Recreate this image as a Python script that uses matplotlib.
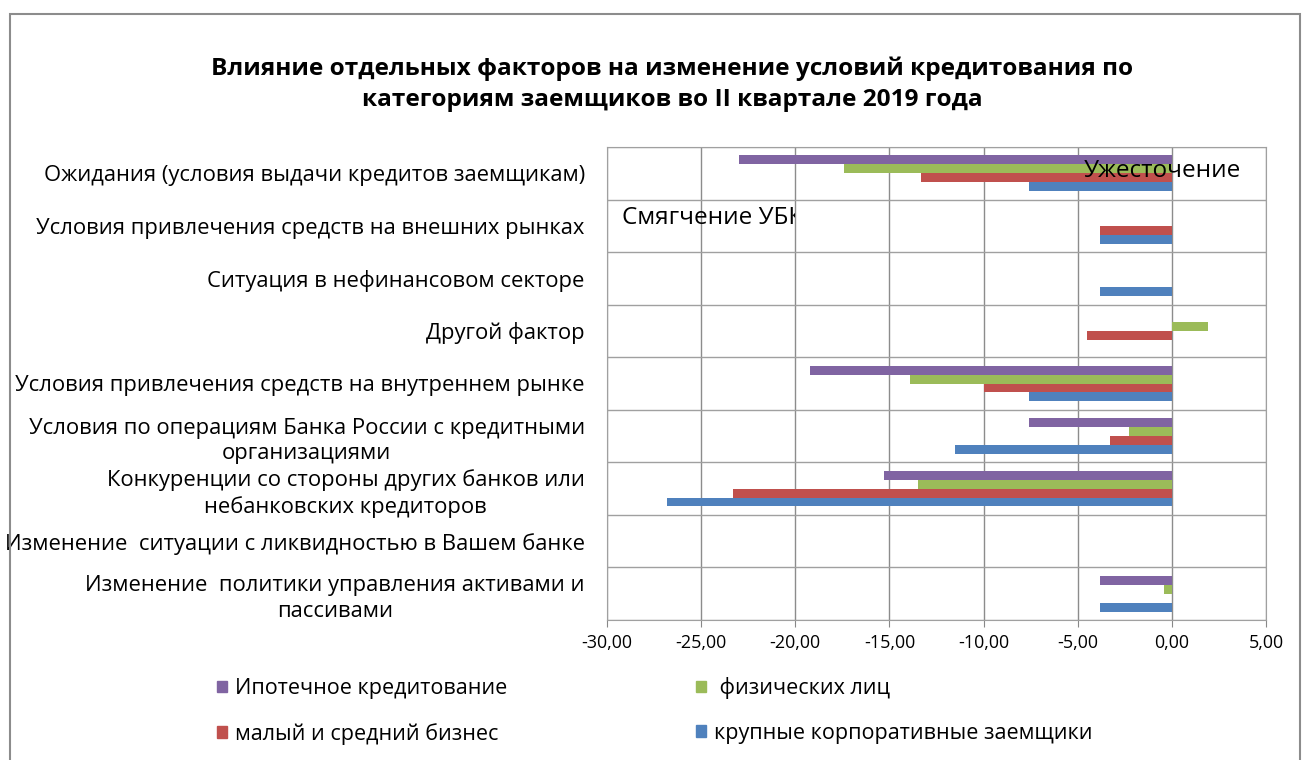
import numpy as np
import matplotlib
matplotlib.use('Agg')
from matplotlib import pyplot as plt
from matplotlib.patches import Rectangle, Patch
from matplotlib.transforms import Bbox, TransformedBbox
from matplotlib.ticker import FuncFormatter, MultipleLocator

plt.rcParams['font.family'] = ['Open Sans', 'DejaVu Sans']

categories = [
    'Ожидания (условия выдачи кредитов заемщикам)',
    'Условия привлечения средств на внешних рынках',
    'Ситуация в нефинансовом секторе',
    'Другой фактор',
    'Условия привлечения средств на внутреннем рынке',
    'Условия по операциям Банка России с кредитными\nорганизациями',
    'Конкуренции со стороны других банков или\nнебанковских кредиторов',
    'Изменение  ситуации с ликвидностью в Вашем банке',
    'Изменение  политики управления активами и\nпассивами',
]

series_names = ['Ипотечное кредитование', ' физических лиц',
                'малый и средний бизнес', 'крупные корпоративные заемщики']
series_colors = ['#8064A2', '#9BBB59', '#C0504D', '#4F81BD']

mortgage = [-23.0, 0.0, 0.0, 0.0, -19.2, -7.6, -15.3, 0.0, -3.8]
individuals = [-17.4, 0.0, 0.0, 1.9, -13.9, -2.3, -13.5, 0.0, -0.4]
sme = [-13.3, -3.8, 0.0, -4.5, -10.0, -3.3, -23.3, 0.0, 0.0]
corporate = [-7.6, -3.8, -3.8, 0.0, -7.6, -11.5, -26.8, 0.0, -3.8]

all_series = [mortgage, individuals, sme, corporate]

fig = plt.figure(figsize=(13.09, 7.6), dpi=100)
ax = fig.add_axes([607/1309, 1 - 620/760, (1266 - 607)/1309, (620 - 147)/760])

y = np.arange(len(categories))
h = 0.17
for k in range(4):
    ax.barh(y + (k - 1.5) * h, all_series[k], height=h, color=series_colors[k], zorder=3)

ax.set_xlim(-30, 5)
ax.set_ylim(len(categories) - 0.5, -0.5)
ax.xaxis.set_major_locator(MultipleLocator(5))
ax.xaxis.set_major_formatter(FuncFormatter(lambda v, p: ('%.2f' % v).replace('.', ',').replace('-0,00', '0,00')))
ax.set_yticks(y)
ax.set_yticklabels(categories, fontsize=15.8, ha='right', multialignment='center',
                   linespacing=1.3)
ax.set_yticks(np.arange(len(categories) + 1) - 0.5, minor=True)
ax.tick_params(axis='y', which='major', length=0, pad=16)
ax.tick_params(axis='y', which='minor', length=0)
ax.tick_params(axis='x', length=5, color='#888888', labelsize=12.9, pad=5)
ax.grid(axis='x', which='major', color='#8c8c8c', linewidth=1, zorder=0)
ax.grid(axis='y', which='minor', color='#a0a0a0', linewidth=1, zorder=0)
for s in ax.spines.values():
    s.set_color('#a0a0a0')

ax.text(-4.7, -0.04, 'Ужесточение', fontsize=17.5, va='center', ha='left', zorder=5)
t = ax.text(-29.2, 0.85, 'Смягчение УБК', fontsize=17.5, va='center', ha='left', zorder=5)
t.set_clip_box(TransformedBbox(Bbox([[-30, -0.5], [-20, 8.5]]), ax.transData))
t.set_clip_on(True)

fig.text(672/1309, 1 - 69/760, 'Влияние отдельных факторов на изменение условий кредитования по',
         ha='center', va='center', fontsize=17.6, fontweight='bold')
fig.text(672/1309, 1 - 100/760, 'категориям заемщиков во II квартале 2019 года',
         ha='center', va='center', fontsize=17.6, fontweight='bold')

handles = [Patch(color=c) for c in series_colors]
order = [0, 2, 1, 3]
leg = fig.legend([handles[i] for i in order], [series_names[i] for i in order],
                 ncol=2, loc='center left', bbox_to_anchor=(198/1309, 1 - 711/760),
                 frameon=False, fontsize=15.5, handlelength=0.45, handleheight=0.45,
                 handletextpad=0.35, columnspacing=8.8, labelspacing=1.1)

fig.patches.append(Rectangle((10/1309, -0.02), 1290/1309, 1.02 - 14/760,
                             transform=fig.transFigure, fill=False,
                             edgecolor='#8c8c8c', linewidth=1.5))

fig.savefig('out.png', dpi=100)
